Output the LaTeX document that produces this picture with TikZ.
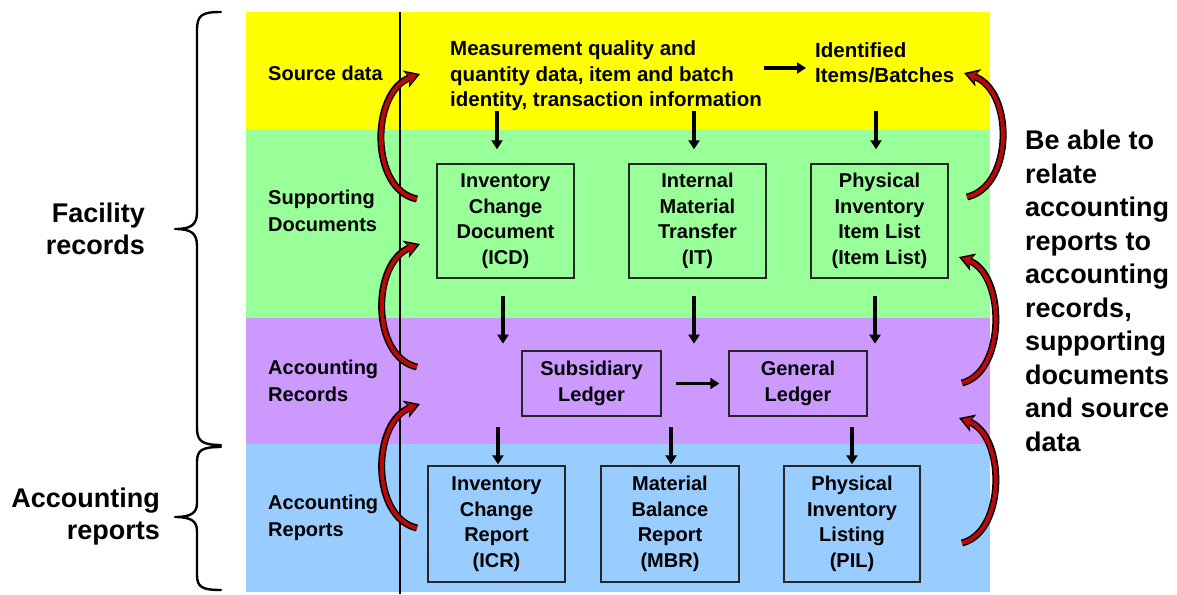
\documentclass[tikz,border=0pt]{standalone}
\usepackage{fontspec}
\setmainfont{Liberation Sans}
\usetikzlibrary{arrows.meta}
\definecolor{cyel}{RGB}{255,255,0}
\definecolor{cgrn}{RGB}{153,255,153}
\definecolor{cpur}{RGB}{204,153,255}
\definecolor{cblu}{RGB}{153,204,255}
\definecolor{cred}{RGB}{185,10,10}
\newcommand\myredarrow[4]{%
  \draw[black, line width=7pt, -{Stealth[length=15pt,width=18pt,inset=4pt]}] (#1) .. controls #2 and #3 .. (#4);
  \draw[cred, line width=4pt, shorten >=3pt, -{Stealth[length=10pt,width=12pt,inset=3pt]}] (#1) .. controls #2 and #3 .. (#4);
}
\begin{document}
\begin{tikzpicture}[x=1pt,y=-1pt,
  box/.style={draw=black!85, line width=1.4pt, align=center, inner sep=0pt,
    font=\bfseries\fontsize{20}{25.5}\selectfont},
  lbl/.style={align=left, anchor=west, inner sep=0pt,
    font=\bfseries\fontsize{20}{26.5}\selectfont},
  txt/.style={align=left, anchor=west, inner sep=0pt,
    font=\bfseries\fontsize{20.5}{25.5}\selectfont},
  big/.style={inner sep=0pt, font=\bfseries\fontsize{27}{32}\selectfont},
  flow/.style={line width=3.4pt, -{Triangle[length=9pt,width=11pt]}},
  bracepath/.style={line width=2.4pt, line cap=round, line join=round}
]
\useasboundingbox (0,0) rectangle (1177,594);
\fill[white] (0,0) rectangle (1177,594);
% bands
\fill[cyel] (246,12) rectangle (990,130);
\fill[cgrn] (246,130) rectangle (990,318);
\fill[cpur] (246,318) rectangle (990,444);
\fill[cblu] (246,444) rectangle (990,592);
\draw[line width=1.2pt] (400,12) -- (400,594);

% row labels
\node[lbl] (srcl) at (268,73) {Source data};
\node[lbl] (supl) at (268,211) {Supporting\\Documents};
\node[lbl] (arl) at (268,381) {Accounting\\Records};
\node[lbl] (aprl) at (268,518) {Accounting\\Reports};

% source data
\node[txt] (meas) at (450,76) {Measurement quality and\\quantity data, item and batch\\identity, transaction information};
\node[txt] (ident) at (815,63) {Identified\\Items/Batches};
\draw[flow] ([xshift=2pt,yshift=-5pt]ident.west -| meas.east) -- ([xshift=-9pt,yshift=-5pt]ident.west);

% supporting documents
\node[box, minimum width=137pt, minimum height=114pt] (icd) at (505.5,221) {Inventory\\Change\\Document\\(ICD)};
\node[box, minimum width=137pt, minimum height=114pt] (it) at (697.5,221) {Internal\\Material\\Transfer\\(IT)};
\node[box, minimum width=137pt, minimum height=114pt] (list) at (879.5,221) {Physical\\Inventory\\Item List\\(Item List)};

% accounting records
\node[box, minimum width=139pt, minimum height=65pt] (sub) at (591.5,383.5) {Subsidiary\\Ledger};
\node[box, minimum width=138pt, minimum height=65pt] (gen) at (798,383.5) {General\\Ledger};
\draw[flow] ([xshift=14pt]sub.east) -- ([xshift=-9pt]gen.west);

% accounting reports
\node[box, minimum width=137pt, minimum height=116pt] (icr) at (496.5,524) {Inventory\\Change\\Report\\(ICR)};
\node[box, minimum width=138pt, minimum height=116pt] (mbr) at (670,524) {Material\\Balance\\Report\\(MBR)};
\node[box, minimum width=136pt, minimum height=116pt] (pil) at (852,524) {Physical\\Inventory\\Listing\\(PIL)};

% vertical flow arrows
\draw[flow] ([xshift=-8.5pt,yshift=52pt]icd.north) -- ([xshift=-8.5pt,yshift=14pt]icd.north);
\draw[flow] ([xshift=-3.5pt,yshift=52pt]it.north) -- ([xshift=-3.5pt,yshift=14pt]it.north);
\draw[flow] ([xshift=-3.5pt,yshift=52pt]list.north) -- ([xshift=-3.5pt,yshift=14pt]list.north);

\draw[flow] ([xshift=-2.5pt,yshift=-17pt]icd.south) -- ([xshift=-2.5pt,yshift=-65pt]icd.south);
\draw[flow] ([xshift=-3.5pt,yshift=-17pt]it.south) -- ([xshift=-3.5pt,yshift=-65pt]it.south);
\draw[flow] ([xshift=-4.5pt,yshift=-17pt]list.south) -- ([xshift=-4.5pt,yshift=-65pt]list.south);

\draw[flow] ([xshift=1.5pt,yshift=38pt]icr.north) -- ([yshift=1pt,xshift=1.5pt]icr.north);
\draw[flow] ([xshift=1pt,yshift=38pt]mbr.north) -- ([yshift=1pt,xshift=1pt]mbr.north);
\draw[flow] ([yshift=38pt]pil.north) -- ([yshift=1pt]pil.north);

% curved red arrows, left
\coordinate (l1t) at (417,199); \coordinate (l1h) at (420,74);
\coordinate (l2t) at (417,367); \coordinate (l2h) at (420,244);
\coordinate (l3t) at (417,528); \coordinate (l3h) at (420,404);
\myredarrow{l1t}{(370,190)}{(370,92)}{l1h}
\myredarrow{l2t}{(371,357)}{(371,262)}{l2h}
\myredarrow{l3t}{(371,518)}{(371,422)}{l3h}
% curved red arrows, right
\coordinate (r1t) at (967,197); \coordinate (r1h) at (964,73);
\coordinate (r2t) at (962,383); \coordinate (r2h) at (959,257);
\coordinate (r3t) at (962,543); \coordinate (r3h) at (959,418);
\myredarrow{r1t}{(1014,186)}{(1014,90)}{r1h}
\myredarrow{r2t}{(1006,372)}{(1006,274)}{r2h}
\myredarrow{r3t}{(1006,532)}{(1006,435)}{r3h}

% right text
\node[big, align=left, anchor=west, font=\bfseries\fontsize{27}{33.5}\selectfont] (note) at (1025,291)
  {Be able to\\relate\\accounting\\reports to\\accounting\\records,\\supporting\\documents\\and source\\data};

% braces and their labels
\draw[bracepath] (221,12) .. controls (202,12) and (197,15) .. (197,30) -- (197,212)
  .. controls (197,225) and (191,229) .. (175,229)
  .. controls (191,229) and (197,233) .. (197,246) -- (197,428)
  .. controls (197,441) and (202,445) .. (221,445);
\draw[bracepath] (221,447) .. controls (202,447) and (197,450) .. (197,462) -- (197,503)
  .. controls (197,513) and (191,517) .. (175,517)
  .. controls (191,517) and (197,521) .. (197,531) -- (197,575)
  .. controls (197,587) and (202,590) .. (221,590);
\node[big, align=right, anchor=east] (fac) at (145,229) {Facility\\records};
\node[big, align=right, anchor=east] (acr) at (160,517) {Accounting\\reports};
\end{tikzpicture}
\end{document}
